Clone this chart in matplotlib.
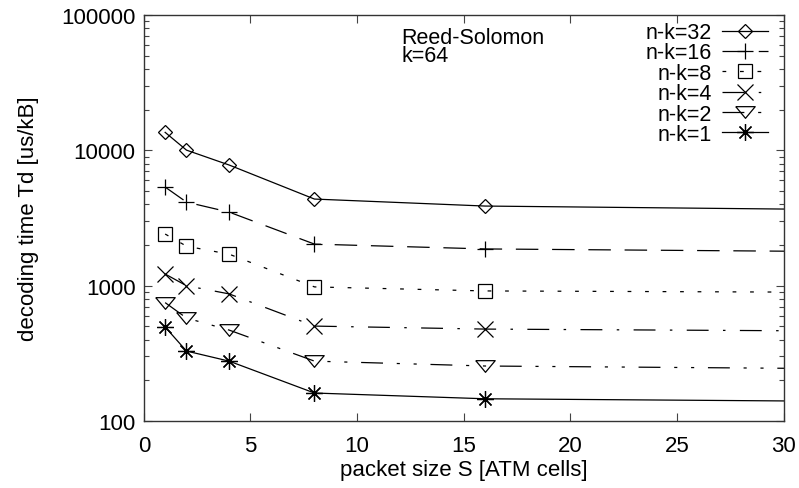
import numpy as np
import matplotlib.pyplot as plt
from matplotlib.ticker import FuncFormatter, LogLocator, MultipleLocator

plt.rcParams['font.family'] = ['Liberation Sans', 'DejaVu Sans']

# packet size S [ATM cells]; last point lies past the right edge (clipped)
packet_size = [1, 2, 4, 8, 16, 32]

labels = ["n-k=32", "n-k=16", "n-k=8", "n-k=4", "n-k=2", "n-k=1"]
td_32 = [13600, 10050, 7800, 4370, 3880, 3660]
td_16 = [5360, 4150, 3500, 2030, 1870, 1790]
td_8 = [2410, 1960, 1710, 980, 915, 895]
td_4 = [1220, 1000, 870, 503, 478, 463]
td_2 = [750, 577, 470, 277, 255, 244]
td_1 = [495, 329, 277, 161, 146, 140]

series = [td_32, td_16, td_8, td_4, td_2, td_1]
# wide, flat gnuplot-like triangle
tri = [(-1, 0.6), (1, 0.6), (0, -0.6), (-1, 0.6)]
markers = ["D", "+", "s", "x", tri, (8, 2, 0)]
msizes = [7.5, 11, 10.5, 11.5, 14, 12]
dashes = [None, (18, 11), (3, 11), (17.5, 11.5, 2, 11.5),
          (17.5, 11, 2.5, 11, 2.5, 11), None]

fig = plt.figure(figsize=(7.99, 4.89), dpi=100)
ax = fig.add_axes([0.180, 0.137, 0.801, 0.830])

for y, lab, m, ms, d in zip(series, labels, markers, msizes, dashes):
    line, = ax.plot(packet_size, y, color="black", lw=0.9, marker=m,
                    markersize=ms, markerfacecolor="none",
                    markeredgecolor="black", markeredgewidth=0.9, label=lab)
    if d is not None:
        line.set_dashes(d)

ax.set_yscale("log")
ax.set_xlim(0, 30)
ax.set_ylim(100, 100000)
ax.xaxis.set_major_locator(MultipleLocator(5))
ax.yaxis.set_major_locator(LogLocator(base=10))
ax.yaxis.set_major_formatter(FuncFormatter(lambda v, p: "%d" % v))
ax.tick_params(which="both", direction="in", top=True, right=True,
               labelsize=16, width=0.8, color="#444444")
ax.tick_params(which="major", length=6)
ax.tick_params(axis="x", which="major", pad=10)
ax.tick_params(axis="y", which="major", pad=6)
ax.tick_params(which="minor", length=3.5)
for s in ax.spines.values():
    s.set_linewidth(1.0)
    s.set_color("#333333")

ax.set_xlabel("packet size S [ATM cells]", fontsize=16, labelpad=2)
ax.set_ylabel("decoding time Td [us/kB]", fontsize=16, labelpad=16)

ax.text(0.403, 0.972, "Reed-Solomon\nk=64", transform=ax.transAxes,
        fontsize=15.5, va="top", ha="left", linespacing=0.85)

ax.legend(loc="upper right", bbox_to_anchor=(0.988, 1.004), frameon=False,
          markerfirst=False, fontsize=15.5, handlelength=2.1,
          labelspacing=-0.03, handletextpad=0.5, borderaxespad=0.0)

fig.savefig("out.png", dpi=100)
